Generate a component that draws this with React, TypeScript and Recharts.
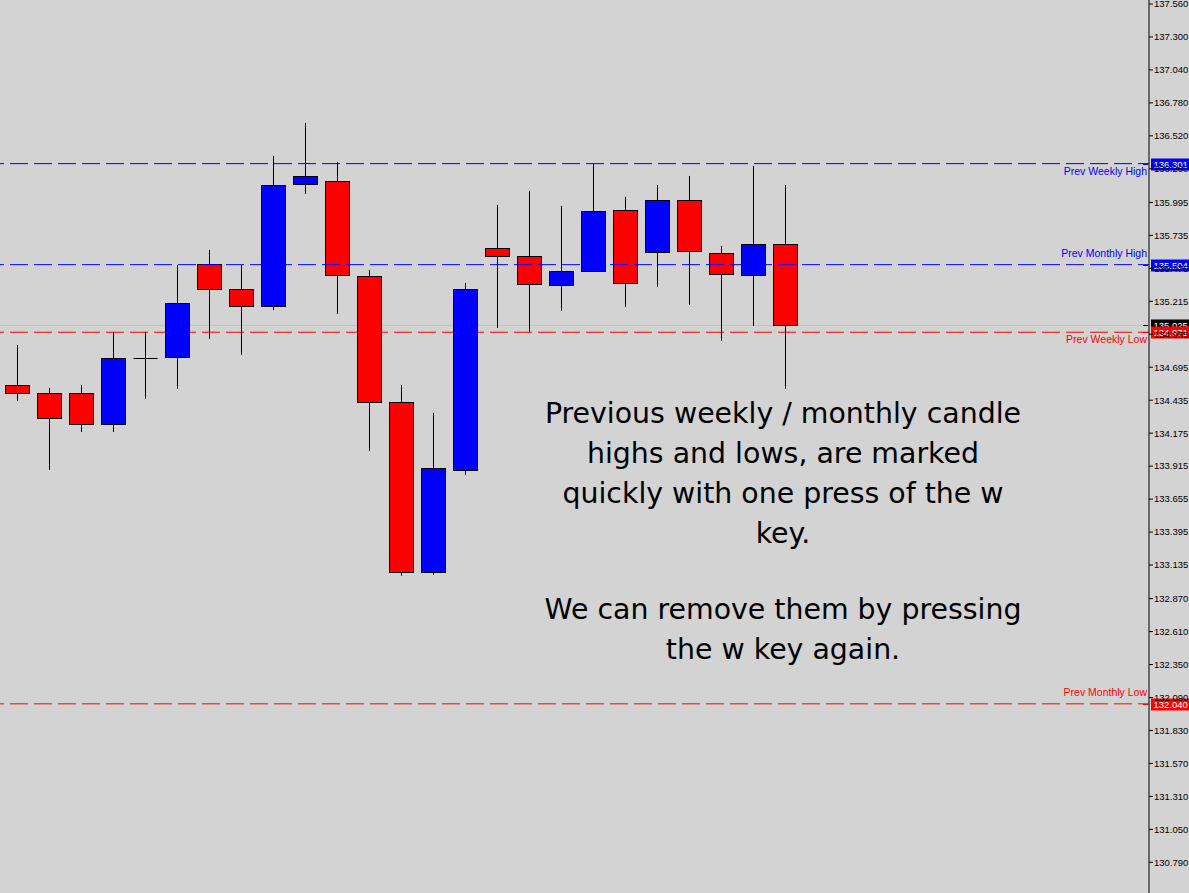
import { ComposedChart, Bar, XAxis, YAxis, ReferenceLine } from "recharts"

// candle OHLC (oldest first)
const opens = [
  134.556, 134.493, 134.493, 134.248, 134.769, 134.777, 135.51, 135.313, 135.179, 136.141,
  136.165, 135.416, 134.422, 133.081, 133.886, 135.636, 135.573, 135.345, 135.455, 135.936,
  135.605, 136.015, 135.597, 135.423, 135.668,
]
const highs = [
  134.871, 134.532, 134.556, 134.974, 134.974, 135.502, 135.621, 135.502, 136.362, 136.622,
  136.315, 135.463, 134.556, 134.335, 135.36, 135.975, 136.086, 135.968, 136.299, 136.039,
  136.133, 136.204, 135.652, 136.283, 136.133,
]
const lows = [
  134.43, 133.886, 134.185, 134.185, 134.446, 134.524, 134.919, 134.793, 135.147, 136.062,
  135.116, 134.035, 133.05, 133.058, 133.846, 135.005, 134.974, 135.14, 135.455, 135.171,
  135.329, 135.187, 134.903, 135.021, 134.524,
]
const closes = [
  134.493, 134.296, 134.248, 134.769, 134.769, 135.203, 135.313, 135.179, 136.133, 136.204,
  135.423, 134.422, 133.081, 133.901, 135.313, 135.573, 135.352, 135.455, 135.928, 135.36,
  136.015, 135.613, 135.431, 135.668, 135.025,
]

const priceTicks = [
  137.56, 137.3, 137.04, 136.78, 136.52, 136.26, 135.995, 135.735, 135.475, 135.215, 134.955,
  134.695, 134.435, 134.175, 133.915, 133.655, 133.395, 133.135, 132.87, 132.61, 132.35, 132.09,
  131.83, 131.57, 131.31, 131.05, 130.79,
]

const highNames = ["Prev Weekly High", "Prev Monthly High"]
const highValues = [136.301, 135.504]
const lowNames = ["Prev Weekly Low", "Prev Monthly Low"]
const lowValues = [134.971, 132.04]
const bidPrice = 135.025

const noteParagraphs = [
  ["Previous weekly / monthly candle", "highs and lows, are marked", "quickly with one press of the w", "key."],
  ["We can remove them by pressing", "the w key again."],
]

const candles = opens.map((o, i) => ({ i, open: o, high: highs[i], low: lows[i], close: closes[i] }))

const BULL = "#0000ff"
const BEAR = "#ff0000"
const AXIS_FONT = "'Liberation Sans', Arial, sans-serif"

function Candle(props: any) {
  const { x, y, width, height, payload } = props
  if (x == null || !payload) return null
  const top = Math.min(y, y + height)
  const bottom = Math.max(y, y + height)
  const { open, close, high, low } = payload
  const span = high - low || 1
  const py = (v: number) => top + ((high - v) / span) * (bottom - top)
  const cx = Math.floor(x + width / 2) + 0.5
  const bTop = Math.round(py(Math.max(open, close))) + 0.5
  const bBot = Math.round(py(Math.min(open, close))) + 0.5
  return (
    <g>
      <line x1={cx} x2={cx} y1={top} y2={bottom} stroke="#000" strokeWidth={1} />
      {open === close ? (
        <line x1={cx - 12} x2={cx + 12} y1={bTop} y2={bTop} stroke="#000" strokeWidth={1} />
      ) : (
        <rect
          x={cx - 12}
          y={bTop}
          width={24}
          height={bBot - bTop}
          fill={close > open ? BULL : BEAR}
          stroke="#000"
          strokeWidth={1}
        />
      )}
    </g>
  )
}

// tag on the price axis + name text above/below the line
const levelLabel = (name: string, value: number, color: string, below: boolean) => (props: any) => {
  const vb = props.viewBox
  if (!vb) return null
  const right = vb.x + vb.width
  const ly = Math.round(vb.y) + 0.5
  return (
    <g>
      {name && (
        <text
          x={right - 2}
          y={below ? ly + 10.5 : ly - 8.5}
          textAnchor="end"
          fill={color}
          fontSize={10.5}
          fontFamily={AXIS_FONT}
        >
          {name}
        </text>
      )}
      <line x1={right - 6} x2={right - 1} y1={ly} y2={ly} stroke={color} />
      <rect x={right + 2} y={ly - 6} width={40} height={12} fill={color} />
      <text x={right + 4.5} y={ly + 3.5} fill="#fff" fontSize={9.5} fontFamily={AXIS_FONT}>
        {value.toFixed(3)}
      </text>
    </g>
  )
}

export default function App() {
  return (
    <div
      style={{
        position: "absolute",
        left: 0,
        top: 0,
        width: 1189,
        height: 893,
        background: "#d3d3d3",
        overflow: "hidden",
      }}
    >
      <ComposedChart width={1189} height={893} data={candles} margin={{ top: 0, right: 0, bottom: 0, left: 0 }}>
        <XAxis type="number" dataKey="i" domain={[-0.54, 35.366]} allowDataOverflow hide />
        <YAxis
          orientation="right"
          width={40}
          domain={[130.548, 137.5916]}
          allowDataOverflow
          ticks={priceTicks}
          interval={0}
          tickFormatter={(v: number) => v.toFixed(3)}
          tick={{ fontSize: 9.5, fill: "#000", fontFamily: AXIS_FONT }}
          tickSize={4}
          tickMargin={1}
          tickLine={{ stroke: "#000" }}
          axisLine={{ stroke: "#000" }}
        />
        {/* bid line and red levels sit behind the candles */}
        <ReferenceLine y={bidPrice} stroke="#c0c0c0" strokeWidth={1} zIndex={250} />
        {lowValues.map((v) => (
          <ReferenceLine
            key={v}
            y={v}
            stroke={BEAR}
            strokeWidth={1}
            strokeDasharray="18 6"
            strokeDashoffset={7}
            zIndex={250}
          />
        ))}
        <Bar
          dataKey={(d: any) => [d.low, d.high]}
          shape={(p: any) => <Candle {...p} />}
          barSize={24}
          isAnimationActive={false}
        />
        {highValues.map((v) => (
          <ReferenceLine key={v} y={v} stroke={BULL} strokeWidth={1} strokeDasharray="18 6" strokeDashoffset={7} />
        ))}
        {/* names and price tags on top */}
        <ReferenceLine y={bidPrice} stroke="none" label={levelLabel("", bidPrice, "#000", false)} />
        {lowValues.map((v, k) => (
          <ReferenceLine key={"t" + v} y={v} stroke="none" label={levelLabel(lowNames[k], v, BEAR, k === 0)} />
        ))}
        {highValues.map((v, k) => (
          <ReferenceLine key={"t" + v} y={v} stroke="none" label={levelLabel(highNames[k], v, BULL, k === 0)} />
        ))}
      </ComposedChart>
      {noteParagraphs.map((lines, p) => (
        <div
          key={p}
          style={{
            position: "absolute",
            left: 483,
            width: 600,
            top: p === 0 ? 394 : 590,
            textAlign: "center",
            fontFamily: "'DejaVu Sans', Verdana, sans-serif",
            fontSize: 28.4,
            lineHeight: "40px",
            color: "#000",
          }}
        >
          {lines.map((l) => (
            <div key={l}>{l}</div>
          ))}
        </div>
      ))}
    </div>
  )
}
